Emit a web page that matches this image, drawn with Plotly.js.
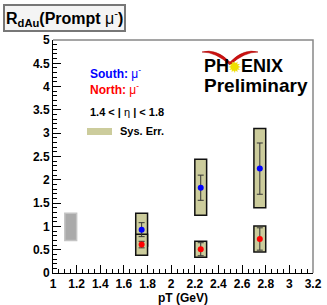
<!DOCTYPE html>
<html>
<head>
<meta charset="utf-8">
<script src="https://cdn.plot.ly/plotly-3.0.1.min.js"></script>
<style>html,body{margin:0;padding:0;background:#fff;}#chart{width:327px;height:305px;}</style>
</head>
<body>
<div id="chart"></div>
<script>
// ---- data ----
const pt = [1.75, 2.25, 2.75];
const southR = [0.93, 1.83, 2.24];
const southStat = [0.15, 0.27, 0.55];
const southSysLo = [0.58, 1.24, 1.40];
const southSysHi = [1.28, 2.44, 3.10];
const northR = [0.61, 0.51, 0.73];
const northStat = [0.07, 0.14, 0.24];
const northSysLo = [0.38, 0.34, 0.45];
const northSysHi = [0.83, 0.68, 1.01];
const normPt = [1.15];
const normLo = [0.70];
const normHi = [1.28];
const xTickVals = [1, 1.2, 1.4, 1.6, 1.8, 2, 2.2, 2.4, 2.6, 2.8, 3, 3.2];
const xTickText = ['1', '1.2', '1.4', '1.6', '1.8', '2', '2.2', '2.4', '2.6', '2.8', '3', '3.2'];
const yTickVals = [0, 0.5, 1, 1.5, 2, 2.5, 3, 3.5, 4, 4.5, 5];
const yTickText = ['0', '0.5', '1', '1.5', '2', '2.5', '3', '3.5', '4', '4.5', '5'];

// ---- layout geometry ----
const W = 327, H = 305;
const M = {l: 53, r: 14, t: 40, b: 32};
const PW = W - M.l - M.r, PH = H - M.t - M.b;
const px = v => (v - M.l) / PW;           // pixel -> paper x
const py = v => (H - M.b - v) / PH;       // pixel -> paper y
const halfW = 0.05;
const FONT = 'Liberation Sans, Arial, sans-serif';
const bold = s => '<b>' + s + '</b>';

const shapes = [];
// global normalization box
normPt.forEach((p, i) => shapes.push({type: 'rect', xref: 'x', yref: 'y', layer: 'below',
  x0: p - halfW, x1: p + halfW, y0: normLo[i], y1: normHi[i],
  fillcolor: '#aaaaaa', line: {color: '#c4c4c4', width: 1.5}}));
// south then north systematic boxes
pt.forEach((p, i) => shapes.push({type: 'rect', xref: 'x', yref: 'y', layer: 'below',
  x0: p - halfW, x1: p + halfW, y0: southSysLo[i], y1: southSysHi[i],
  fillcolor: '#cccc9c', line: {color: '#111', width: 1.5}}));
pt.forEach((p, i) => shapes.push({type: 'rect', xref: 'x', yref: 'y', layer: 'below',
  x0: p - halfW, x1: p + halfW, y0: northSysLo[i], y1: northSysHi[i],
  fillcolor: '#cccc9c', line: {color: '#111', width: 1.5}}));
// gray frame top & right
shapes.push({type: 'path', xref: 'paper', yref: 'paper', path: 'M0,1 L1,1 L1,0',
  line: {color: '#888', width: 1.5}});
// legend swatch
shapes.push({type: 'rect', xref: 'paper', yref: 'paper',
  x0: px(87), x1: px(112), y0: py(135), y1: py(128),
  fillcolor: '#cccc9c', line: {width: 0}});
// PHENIX red wing
const wing = [[202,52],[216,48],[230,62],[244,48],[258,52],[244,52],[230,65],[216,52],[202,52]];
const P = q => px(q[0]) + ',' + py(q[1]);
shapes.push({type: 'path', xref: 'paper', yref: 'paper',
  path: 'M' + P(wing[0]) + ' Q' + P(wing[1]) + ' ' + P(wing[2]) + ' Q' + P(wing[3]) + ' ' + P(wing[4]) +
        ' Q' + P(wing[5]) + ' ' + P(wing[6]) + ' Q' + P(wing[7]) + ' ' + P(wing[8]) + ' Z',
  fillcolor: '#cc1111', line: {color: '#aa0000', width: 0.5}});

const traces = [
  {x: pt, y: southR, type: 'scatter', mode: 'markers', name: 'South',
   marker: {color: '#0000ff', size: 6},
   error_y: {type: 'data', array: southStat, color: '#333', thickness: 1, width: 3}},
  {x: pt, y: northR, type: 'scatter', mode: 'markers', name: 'North',
   marker: {color: '#ff0000', size: 6},
   error_y: {type: 'data', array: northStat, color: '#333', thickness: 1, width: 3}}
];

const annotations = [
  {xref: 'paper', yref: 'paper', x: px(64), y: py(18), xanchor: 'center', yanchor: 'middle',
   text: '<b>R<sub>dAu</sub>(Prompt </b>μ<sup>-</sup><b>)</b>', showarrow: false,
   font: {family: FONT, size: 16, color: '#000'},
   bordercolor: '#777', borderwidth: 2, borderpad: 1, bgcolor: '#f4f4f4'},
  {xref: 'paper', yref: 'paper', x: px(88), y: py(73), xanchor: 'left', yanchor: 'middle',
   text: '<b>South:</b> μ<sup>-</sup>', showarrow: false, font: {family: FONT, size: 12, color: '#0000ff'}},
  {xref: 'paper', yref: 'paper', x: px(88), y: py(89), xanchor: 'left', yanchor: 'middle',
   text: '<b>North:</b> μ<sup>-</sup>', showarrow: false, font: {family: FONT, size: 12, color: '#ff0000'}},
  {xref: 'paper', yref: 'paper', x: px(88), y: py(112), xanchor: 'left', yanchor: 'middle',
   text: '<b>1.4 < | </b>η<b> | < 1.8</b>', showarrow: false, font: {family: FONT, size: 11, color: '#000'}},
  {xref: 'paper', yref: 'paper', x: px(118), y: py(131), xanchor: 'left', yanchor: 'middle',
   text: '<b>Sys. Err.</b>', showarrow: false, font: {family: FONT, size: 11, color: '#000'}},
  {xref: 'paper', yref: 'paper', x: px(202), y: py(66), xanchor: 'left', yanchor: 'middle',
   text: '<b>PH<span style="color:#efe000;font-size:14px">✹</span>ENIX</b>', showarrow: false,
   font: {family: FONT, size: 18, color: '#000'}},
  {xref: 'paper', yref: 'paper', x: px(202), y: py(85), xanchor: 'left', yanchor: 'middle',
   text: '<b>Preliminary</b>', showarrow: false, font: {family: FONT, size: 19, color: '#000'}}
];

const tickFont = {family: FONT, size: 12, color: '#000'};
const layout = {
  width: W, height: H, margin: M, showlegend: false,
  paper_bgcolor: '#fff', plot_bgcolor: '#fff',
  xaxis: {range: [1, 3.2], tickvals: xTickVals, ticktext: xTickText.map(bold), ticks: 'inside', ticklen: 8,
    tickcolor: '#000', showgrid: false, zeroline: false, showline: true, linecolor: '#000', linewidth: 1,
    tickfont: tickFont, fixedrange: true, automargin: false,
    minor: {dtick: 0.05, ticks: 'inside', ticklen: 4, tickcolor: '#000', showgrid: false},
    title: {text: '<b>pT (GeV)</b>', font: {family: FONT, size: 12, color: '#000'}, standoff: 2}},
  yaxis: {range: [0, 5], tickvals: yTickVals, ticktext: yTickText.map(bold), ticks: 'inside', ticklen: 8,
    tickcolor: '#000', showgrid: false, zeroline: false, showline: true, linecolor: '#000', linewidth: 1,
    tickfont: tickFont, fixedrange: true, automargin: false,
    minor: {dtick: 0.1, ticks: 'inside', ticklen: 4, tickcolor: '#000', showgrid: false}},
  shapes: shapes, annotations: annotations
};
Plotly.newPlot('chart', traces, layout, {staticPlot: true, displayModeBar: false});
</script>
</body>
</html>
